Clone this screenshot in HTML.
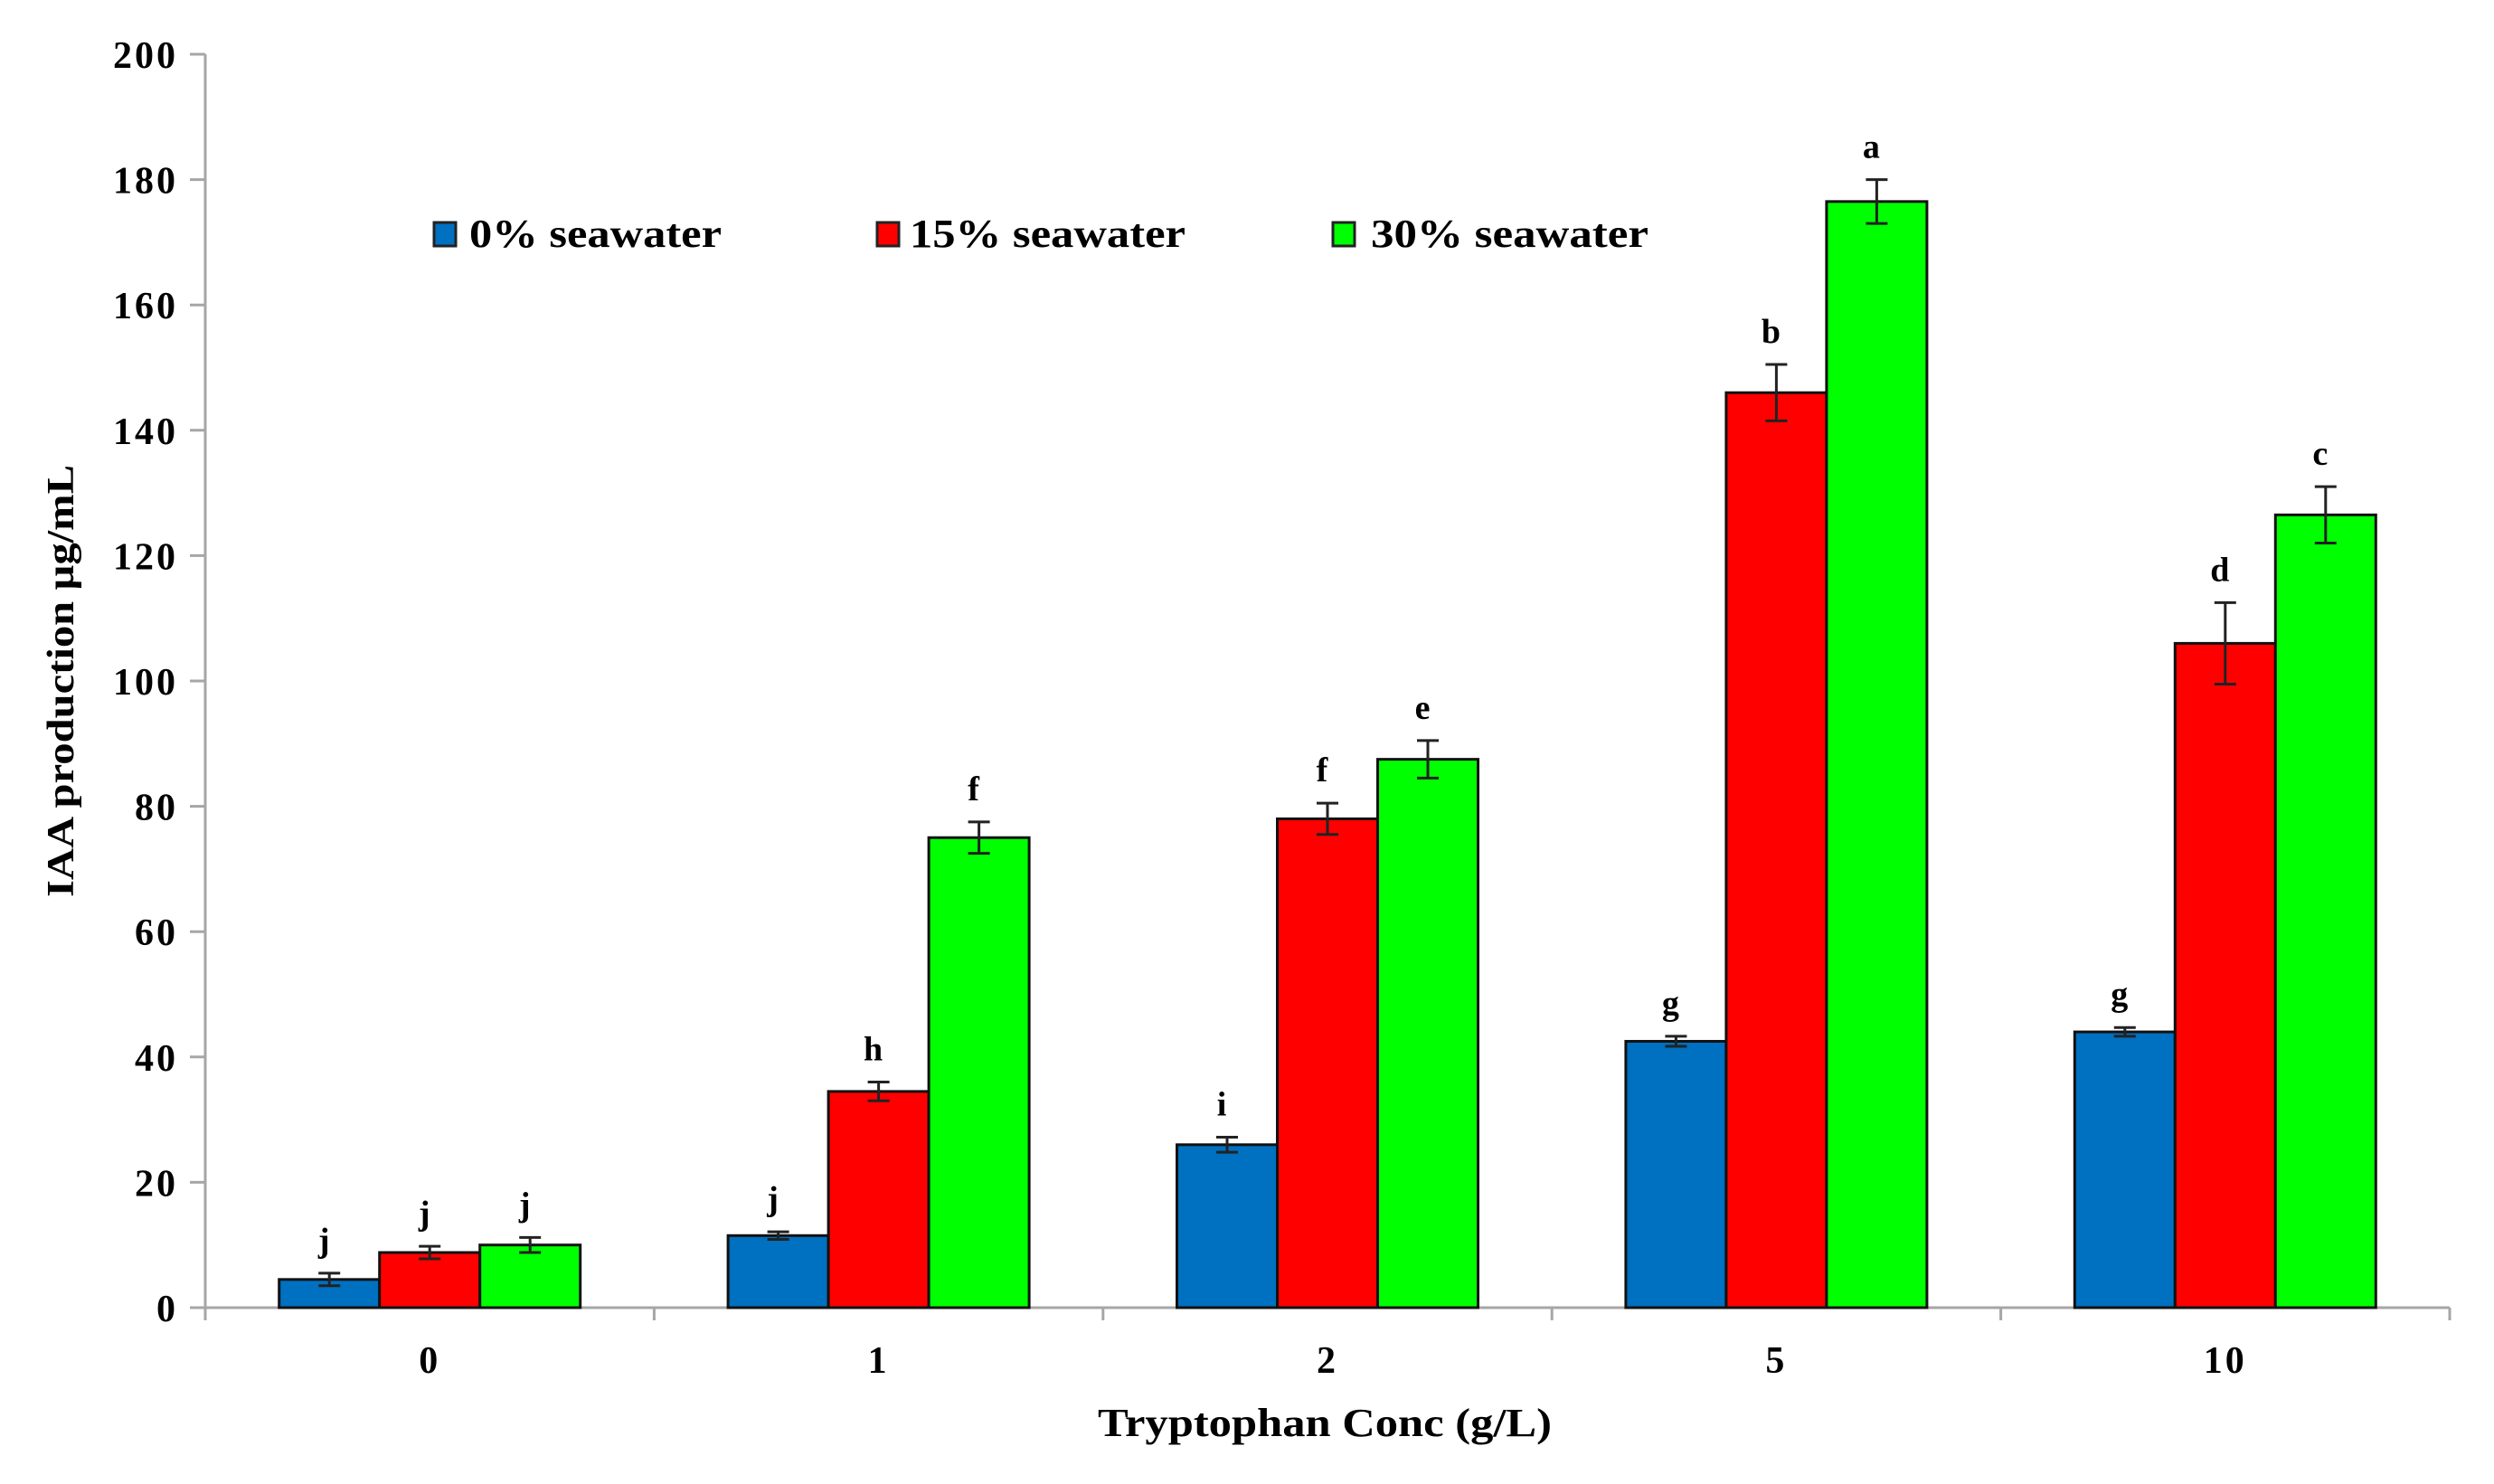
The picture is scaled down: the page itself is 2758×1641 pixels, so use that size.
<!DOCTYPE html>
<html><head><meta charset="utf-8"><style>
html,body{margin:0;padding:0;background:#fff}
svg{display:block}
text{font-family:"Liberation Serif",serif;font-weight:bold;fill:#000}
</style></head><body>
<svg id="chart" width="2758" height="1641" viewBox="0 0 2758 1641">
<g id="axes"></g>
<g id="bars"></g>
<g id="legend">
  <rect x="480" y="246" width="24" height="26" fill="#0070c0" stroke="#222" stroke-width="3"/>
  <text x="519" y="273" font-size="44" textLength="279" lengthAdjust="spacingAndGlyphs">0% seawater</text>
  <rect x="970" y="246" width="24" height="26" fill="#ff0000" stroke="#222" stroke-width="3"/>
  <text x="1006" y="273" font-size="44" textLength="305" lengthAdjust="spacingAndGlyphs">15% seawater</text>
  <rect x="1474" y="246" width="24" height="26" fill="#00ff00" stroke="#222" stroke-width="3"/>
  <text x="1516" y="273" font-size="44" textLength="307" lengthAdjust="spacingAndGlyphs">30% seawater</text>
</g>
<text x="0" y="0" transform="translate(81,753) rotate(-90)" text-anchor="middle" font-size="42" textLength="478" lengthAdjust="spacingAndGlyphs">IAA production µg/mL</text>
<text x="1465" y="1588" text-anchor="middle" font-size="44" textLength="502" lengthAdjust="spacingAndGlyphs">Tryptophan Conc (g/L)</text>
</svg>
<script>
const categories = ["0","1","2","5","10"];
const seriesNames = ["0% seawater","15% seawater","30% seawater"];
const values0 = [4.5, 11.5, 26, 42.5, 44];
const values15 = [8.8, 34.5, 78, 146, 106];
const values30 = [10, 75, 87.5, 176.5, 126.5];
const errors0 = [1, 0.6, 1.2, 0.8, 0.7];
const errors15 = [1, 1.5, 2.5, 4.5, 6.5];
const errors30 = [1.2, 2.5, 3, 3.5, 4.5];
const letters0 = ["j","j","i","g","g"];
const letters15 = ["j","h","f","b","d"];
const letters30 = ["j","f","e","a","c"];
const yTicks = [0,20,40,60,80,100,120,140,160,180,200];

const NS="http://www.w3.org/2000/svg";
const X0=227, X1=2709, Y0=1446, Y1=60;
const catW=(X1-X0)/categories.length;
const y=v=>Y0-(v/200)*(Y0-Y1);
const xc=i=>X0+catW*(i+0.5);
const barW=111;
const colors=["#0070c0","#ff0000","#00ff00"];
const vals=[values0,values15,values30], errs=[errors0,errors15,errors30], lets=[letters0,letters15,letters30];
function mk(tag,attrs,parent){const e=document.createElementNS(NS,tag);for(const k in attrs)e.setAttribute(k,attrs[k]);parent.appendChild(e);return e;}
const axes=document.getElementById('axes'), bars=document.getElementById('bars');
const grey="#a6a6a6";
let l=mk('line',{x1:X0,y1:Y1,x2:X0,y2:Y0,stroke:grey,'stroke-width':3},axes);


l=mk('line',{x1:X0,y1:Y0,x2:X1,y2:Y0,stroke:grey,'stroke-width':3},axes);


yTicks.forEach(t=>{
  const tk=mk('line',{x1:X0-17,y1:y(t),x2:X0,y2:y(t),stroke:grey,'stroke-width':3},axes);
  
  
  const tx=mk('text',{x:X0-30,y:y(t)+15,'text-anchor':'end','font-size':42,'letter-spacing':3},axes);
  tx.textContent=t;
  
  
});
for(let i=0;i<=categories.length;i++){
  const tk=mk('line',{x1:X0+catW*i,y1:Y0,x2:X0+catW*i,y2:Y0+14,stroke:grey,'stroke-width':3},axes);
  
  
}
categories.forEach((c,i)=>{
  const tx=mk('text',{x:xc(i),y:Y0+72,'text-anchor':'middle','font-size':42,'letter-spacing':3},axes);
  tx.textContent=c;
  
  
  for(let s=0;s<3;s++){
    const v=vals[s][i], e=errs[s][i];
    const bx=xc(i)-1.5*barW+s*barW;
    const r=mk('rect',{x:bx,y:y(v),width:barW,height:Y0-y(v),fill:colors[s],stroke:'#111','stroke-width':3},bars);
    
    
    const cx=bx+barW/2;
    const eb=mk('path',{d:`M${cx},${y(v+e)}V${y(v-e)}M${cx-12},${y(v+e)}H${cx+12}M${cx-12},${y(v-e)}H${cx+12}`,stroke:'#222','stroke-width':3,fill:'none'},bars);
    
    
    const lt=mk('text',{x:cx-6,y:y(v+e)-24,'text-anchor':'middle','font-size':38},bars);
    lt.textContent=lets[s][i];
    
    
  }
});
</script>
</body></html>
